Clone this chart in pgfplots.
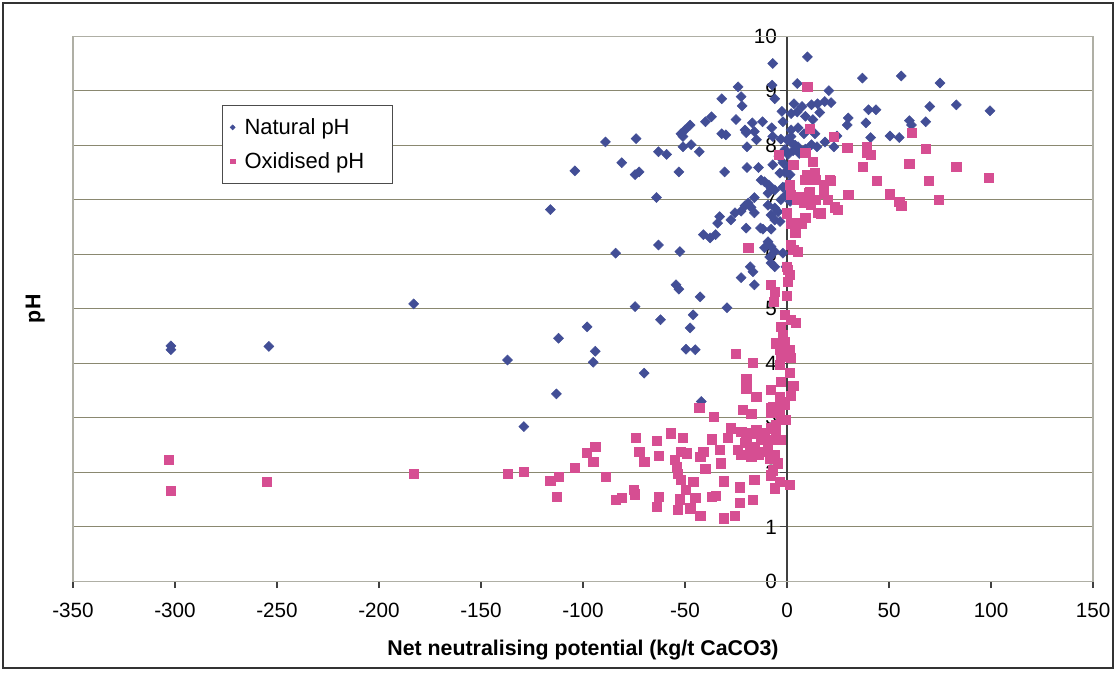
\documentclass[border=0pt]{standalone}
\usepackage{fontspec}
\setmainfont{Liberation Sans}
\usepackage{pgfplots}
\usepackage{pgfplotstable}
\pgfplotsset{compat=1.18}

\definecolor{natblue}{RGB}{66,78,150}
\definecolor{oxpink}{RGB}{214,78,146}
\definecolor{gridc}{RGB}{138,136,112}
\definecolor{framec}{RGB}{175,175,165}

% Natural pH
\pgfplotstableread{
x y
-302 4.25
-302 4.32
-254 4.31
-183 5.09
-137 4.06
-129 2.84
-116 6.82
-113 3.44
-112 4.46
-104 7.53
-98 4.67
-95 4.02
-94 4.22
-89 8.06
-84 6.02
-81 7.68
-74.5 5.04
-74 8.12
-74.5 7.46
-72.5 7.51
-70 3.82
-64 7.04
-63 6.17
-63 7.88
-62 4.8
-59 7.83
-54.4 5.44
-53 5.36
-53 7.51
-52.5 6.05
-52 8.21
-51 8.16
-51 7.97
-50 8.28
-49.5 4.26
-47.5 8.37
-47.5 4.65
-47 8.01
-46 4.89
-45 4.25
-43 7.88
-42.6 5.22
-42 3.3
-41 6.36
-40 8.43
-37.7 6.3
-37 8.52
-35 6.36
-34 6.57
-33 6.69
-32 8.85
-32 8.21
-30.6 7.51
-30 8.19
-29.4 5.02
-27.5 6.63
-25.5 6.76
-25 8.47
-24 9.07
-22.5 8.89
-22 8.72
-22.5 6.79
-22.5 5.57
-20.6 8.28
-20 8.23
-20.6 6.89
-20 6.48
-19.6 7.97
-19.6 7.59
-19 6.94
-17.6 6.86
-18 5.77
-17 8.41
-16.7 5.68
-16 8.25
-16 6.76
-16 7.04
-16 5.44
-15 8.1
-14 7.59
-13 6.48
-12.7 7.36
-12 8.43
-11.8 6.46
-11 7.33
-11 6.12
-9.3 6.23
-9.3 7.12
-9.3 6.9
-9 7.27
-8.5 5.95
-8 7.22
-7.8 6.46
-7.8 6.72
-7.8 6.14
-7.8 5.84
-7.5 8.32
-7 9.5
-7 8.16
-7 7.64
-7.3 9.1
-6 8.85
-6 7.18
-6 6.85
-6 6.63
-6 6.05
-6 5.77
-4.4 6.78
-4 7.8
-3.4 6.6
-3 8.11
-3 7.0
-3.5 7.49
-2.5 8.62
-2 8.43
-2 7.68
-2 7.23
-2 6.02
-1 7.92
-1 7.5
-0.5 7.09
-0.5 5.77
0 8.1
0.5 7.83
0.5 7.59
1 7.3
1.5 7.46
1.5 6.97
2 8.58
2 8.28
2 8.16
2 8.05
3 7.9
3.4 8.76
4 8.0
5 9.13
5 8.61
5.4 8.32
5.4 7.97
6 7.85
7.4 8.71
8.3 8.21
9 8.53
9 7.93
10 9.62
12 8.74
12 8.01
12.7 8.47
13.7 8.21
14.7 7.97
15 8.76
16 8.6
18.5 8.8
18.6 8.06
20.5 9.0
21.6 8.78
23 7.97
24.5 8.17
29.5 8.37
30 8.5
37 9.23
38.7 8.41
40 8.65
41 8.14
43.6 8.65
50.5 8.17
55 8.14
56 9.27
60 8.45
61 8.37
68 8.43
70 8.71
75 9.14
83 8.74
99.5 8.63
}\natdata

% Oxidised pH
\pgfplotstableread{
x y
-303 2.23
-302 1.66
-255 1.83
-183 1.97
-137 1.97
-129 2.01
-116 1.85
-113 1.55
-112 1.92
-104 2.08
-98 2.36
-95 2.19
-94 2.47
-89 1.92
-84 1.5
-81 1.53
-75 1.68
-74.5 1.6
-74 2.64
-72.5 2.38
-70 2.19
-64 1.37
-63 1.55
-64 2.58
-63 2.3
-57 2.72
-55 2.23
-54 2.1
-53.4 1.31
-53.4 1.98
-52.5 1.51
-52 1.86
-52 2.38
-51 2.63
-49.5 1.68
-49 2.35
-47.5 1.34
-46 1.83
-45 1.53
-43 3.18
-42.6 1.2
-42.6 2.29
-41 2.38
-40 2.07
-37 2.61
-37 1.55
-36 3.02
-35 1.57
-33 2.41
-32.5 2.17
-31 1.84
-31 1.16
-29 2.64
-27.5 2.81
-25.5 1.2
-25 4.17
-24 2.41
-23 1.73
-23 1.44
-22.5 2.74
-22.5 2.32
-21.6 3.15
-20.6 2.54
-20 3.71
-20 3.53
-20 2.63
-19 6.12
-18 2.41
-17.6 3.07
-17.6 2.72
-17.6 2.29
-16.7 4.01
-16.7 1.5
-16 1.86
-16 2.47
-15 2.78
-15 3.39
-14 2.32
-13 2.6
-11 2.38
-10.8 2.72
-9.5 2.5
-8.5 2.26
-8 3.51
-8 3.18
-8 5.44
-7.8 2.81
-7.8 3.09
-7.8 2.6
-7.8 1.95
-7 3.2
-7 2.04
-6.4 5.13
-6 5.31
-6 2.32
-6 1.71
-5.4 2.87
-5.4 2.69
-5.4 4.37
-4.4 2.17
-4 7.83
-3.4 3.15
-3.4 1.83
-3.4 4.25
-3.4 3.97
-3.5 3.39
-3 4.67
-3 4.12
-3 3.66
-2.9 2.96
-2.9 2.6
-2 3.3
-2 4.52
-1 4.89
-1 4.39
-1 3.24
-0.5 2.96
0 6.75
0 5.77
0 5.24
0.5 5.72
0.5 5.5
1.5 4.25
1.5 3.83
1.5 1.77
1.5 5.62
1.5 7.27
2 4.8
2 4.1
2 3.4
2 7.09
2 6.57
2 6.17
3 3.59
3 7.64
3 6.08
4 6.39
4.4 4.74
5 7.0
5.4 6.57
5.4 6.04
7 7.06
7 6.57
8.3 6.94
9 7.86
9 7.37
9 6.94
9 6.67
10 9.07
10 7.46
10 7.42
10.8 7.12
11 8.3
11 7.15
11.7 6.91
12.7 7.7
13.7 7.49
14 7.37
14 7.0
15 6.76
16.7 6.75
18 7.27
18 7.12
20 7.0
21 7.37
21.6 7.35
23 8.16
23.5 6.86
25 6.82
29.6 7.95
30 7.09
37 7.6
39 7.97
39 7.86
41 7.83
44 7.35
50.5 7.1
55 6.96
56 6.89
60 7.66
61 8.23
68 7.93
69.6 7.35
74.5 7.0
83 7.6
99 7.4
}\oxdata

\begin{document}
\begin{tikzpicture}
\begin{axis}[
  scale only axis,
  width=765pt, height=409pt,
  xmin=-350, xmax=150, ymin=0, ymax=10,
  xtick={-350,-300,...,150},
  ytick={0,1,...,10},
  axis x line=bottom, axis y line=center,
  axis line style={-, draw=black!75, line width=0.8pt},
  hide obscured x ticks=false, hide obscured y ticks=false,
  tick align=outside, major tick length=5pt,
  tick style={draw=black!75, line width=0.8pt},
  ymajorgrids, grid style={gridc, line width=0.8pt},
  tick label style={font=\fontsize{15.5}{18}\selectfont},
  /pgf/number format/assume math mode=true,
  xticklabel style={yshift=-8pt},
  yticklabel style={xshift=1pt},
  clip=false,
  legend style={at={(rel axis cs:0.146,0.874)}, anchor=north west,
    draw=black!70, font=\fontsize{16.5}{19}\selectfont,
    row sep=8pt, inner xsep=6pt, inner ysep=8pt, legend cell align=left,
    nodes={inner xsep=3pt}},
  legend image post style={scale=0.5},
]
\draw[framec, line width=0.8pt] (rel axis cs:0,0) rectangle (rel axis cs:1,1);
\coordinate (O) at (rel axis cs:0,0);
\addplot[only marks, mark=square*, mark size=2.65pt, mark options={rotate=45}, color=natblue] table {\natdata};
\addlegendentry{\hspace*{4pt}Natural pH\hspace*{20pt}}
\addplot[only marks, mark=square*, mark size=3.5pt, color=oxpink] table {\oxdata};
\addlegendentry{\hspace*{4pt}Oxidised pH\hspace*{12pt}}
\node[rotate=90, font=\bfseries\fontsize{16}{18}\selectfont] at (rel axis cs:-0.037,0.5) {pH};
\node[font=\bfseries\fontsize{16}{18}\selectfont] at (rel axis cs:0.5,-0.126) {Net neutralising potential (kg/t CaCO3)};
\end{axis}
\draw[black!80, line width=1.8pt] ([shift={(-52.5pt,-64.9pt)}]O) rectangle ([shift={(780pt,433.9pt)}]O);
\useasboundingbox ([shift={(-54.75pt,-67.9pt)}]O) rectangle ([shift={(785.25pt,436.1pt)}]O);
\end{tikzpicture}
\end{document}
